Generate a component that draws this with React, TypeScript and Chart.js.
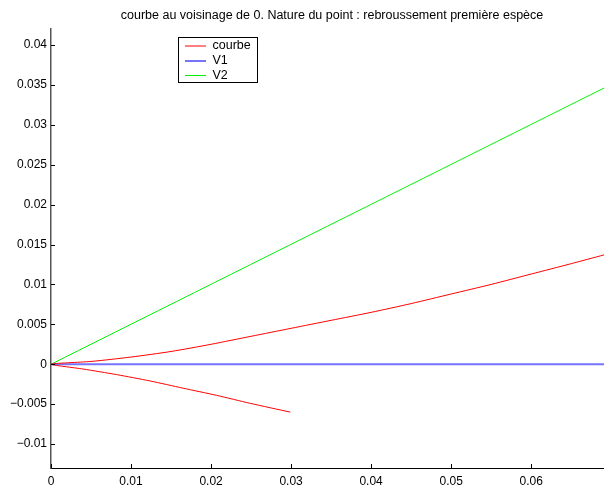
import React, { useEffect, useRef } from "react";
import { Chart, registerables } from "chart.js";

Chart.register(...registerables);

const TITLE = "courbe au voisinage de 0. Nature du point : rebroussement première espèce";

// Branch above the tangent (x, y)
const upperX = [0, 0.005, 0.01, 0.015, 0.02, 0.025, 0.03, 0.035, 0.04, 0.045, 0.05, 0.055, 0.06, 0.065, 0.0691];
const upperY = [0, 0.00035, 0.0009, 0.0016, 0.0025, 0.0035, 0.0045, 0.0055, 0.0065, 0.0076, 0.0088, 0.01, 0.0113, 0.0126, 0.0137];
// Branch below the tangent (x, y)
const lowerX = [0, 0.004, 0.0082, 0.0124, 0.0165, 0.0207, 0.0249, 0.0299];
const lowerY = [0, -0.0006, -0.0013, -0.0021, -0.003, -0.0039, -0.0049, -0.006];
// Tangent vectors
const v1X = [0, 0.0691];
const v1Y = [0, 0];
const v2X = [0, 0.0691];
const v2Y = [0, 0.0346];

const seriesNames = ["courbe", "V1", "V2"];
const seriesColors = ["#ff0000", "#7474ff", "#00f000"];
const seriesWidths = [1, 2, 1];

const xMin = 0;
const xMax = 0.0691;
const yMin = -0.013;
const yMax = 0.042;
const xTicks = [0, 0.01, 0.02, 0.03, 0.04, 0.05, 0.06];
const yTicks = [-0.01, -0.005, 0, 0.005, 0.01, 0.015, 0.02, 0.025, 0.03, 0.035, 0.04];

const FONT = "'Liberation Sans', Arial, Helvetica, sans-serif";

function fmt(v: number): string {
  const s = String(Number(v.toFixed(5)));
  return s.startsWith("-") ? "\u2212" + s.slice(1) : s;
}

function pts(xs: number[], ys: number[]) {
  return xs.map((x, i) => ({ x, y: ys[i] }));
}

const insideTicks = {
  id: "insideTicks",
  afterDraw(chart: any) {
    const { ctx, chartArea } = chart;
    const xs = chart.scales.x;
    const ys = chart.scales.y;
    ctx.save();
    ctx.strokeStyle = "#000";
    ctx.lineWidth = 1;
    ctx.beginPath();
    for (const t of ys.ticks) {
      const p = Math.round(ys.getPixelForValue(t.value)) + 0.5;
      ctx.moveTo(chartArea.left, p);
      ctx.lineTo(chartArea.left + 4, p);
    }
    for (const t of xs.ticks) {
      const p = Math.round(xs.getPixelForValue(t.value)) + 0.5;
      ctx.moveTo(p, chartArea.bottom);
      ctx.lineTo(p, chartArea.bottom - 4);
    }
    ctx.stroke();
    ctx.restore();
  },
};

const titleAndLegend = {
  id: "titleAndLegend",
  afterDraw(chart: any) {
    const { ctx } = chart;
    ctx.save();
    ctx.font = `12.5px ${FONT}`;
    ctx.fillStyle = "#000";
    ctx.textAlign = "center";
    ctx.textBaseline = "alphabetic";
    ctx.fillText(TITLE, 332, 19);

    // legend box
    const bx = 178.5, by = 37.5, bw = 79, bh = 45;
    ctx.fillStyle = "#fff";
    ctx.fillRect(bx, by, bw, bh);
    ctx.strokeStyle = "#000";
    ctx.lineWidth = 1;
    ctx.strokeRect(bx, by, bw, bh);
    const rows = [46, 61, 75.5];
    chart.data.datasets.forEach((ds: any, i: number) => {
      ctx.strokeStyle = ds.borderColor;
      ctx.lineWidth = ds.borderWidth;
      ctx.beginPath();
      ctx.moveTo(185, rows[i]);
      ctx.lineTo(206, rows[i]);
      ctx.stroke();
      ctx.fillStyle = "#000";
      ctx.textAlign = "left";
      ctx.textBaseline = "middle";
      ctx.font = `12.5px ${FONT}`;
      ctx.fillText(ds.label, 212.5, rows[i]);
    });
    ctx.restore();
  },
};

export default function App() {
  const ref = useRef<HTMLCanvasElement | null>(null);
  useEffect(() => {
    document.body.style.margin = "0";
    const canvas = ref.current;
    if (!canvas) return;
    const curve = [...pts(lowerX, lowerY).reverse(), ...pts(upperX, upperY).slice(1)];
    const chart = new Chart(canvas, {
      type: "scatter",
      data: {
        datasets: [
          { label: seriesNames[0], data: curve },
          { label: seriesNames[1], data: pts(v1X, v1Y) },
          { label: seriesNames[2], data: pts(v2X, v2Y) },
        ].map((d, i) => ({
          ...d,
          showLine: true,
          borderColor: seriesColors[i],
          backgroundColor: seriesColors[i],
          borderWidth: seriesWidths[i],
          pointRadius: 0,
          pointHoverRadius: 0,
          tension: 0.25,
        })),
      },
      options: {
        responsive: false,
        animation: false,
        devicePixelRatio: 1,
        layout: { padding: { top: 29, left: 0, right: 0, bottom: 0 } },
        plugins: {
          legend: { display: false },
          title: { display: false },
          tooltip: { enabled: false },
        },
        scales: {
          x: {
            type: "linear",
            min: xMin,
            max: xMax,
            grid: { display: false, drawTicks: false },
            border: { display: true, color: "#000", width: 1 },
            afterBuildTicks: (s: any) => {
              s.ticks = xTicks.map((value) => ({ value }));
            },
            ticks: {
              maxRotation: 0,
              autoSkip: false,
              padding: 6,
              color: "#000",
              font: { family: FONT, size: 12 },
              callback: (v: any) => fmt(Number(v)),
            },
            afterFit: (s: any) => {
              s.height = 17;
            },
          },
          y: {
            type: "linear",
            min: yMin,
            max: yMax,
            grid: { display: false, drawTicks: false },
            border: { display: true, color: "#555", width: 1.5 },
            afterBuildTicks: (s: any) => {
              s.ticks = yTicks.map((value) => ({ value }));
            },
            ticks: {
              autoSkip: false,
              padding: 4,
              color: "#000",
              font: { family: FONT, size: 12 },
              callback: (v: any) => fmt(Number(v)),
            },
            afterFit: (s: any) => {
              s.width = 51;
            },
          },
        },
      },
      plugins: [insideTicks, titleAndLegend],
    });
    return () => chart.destroy();
  }, []);
  return (
    <div style={{ width: 604, height: 485, background: "#fff" }}>
      <canvas ref={ref} width={604} height={485} style={{ display: "block" }} />
    </div>
  );
}
